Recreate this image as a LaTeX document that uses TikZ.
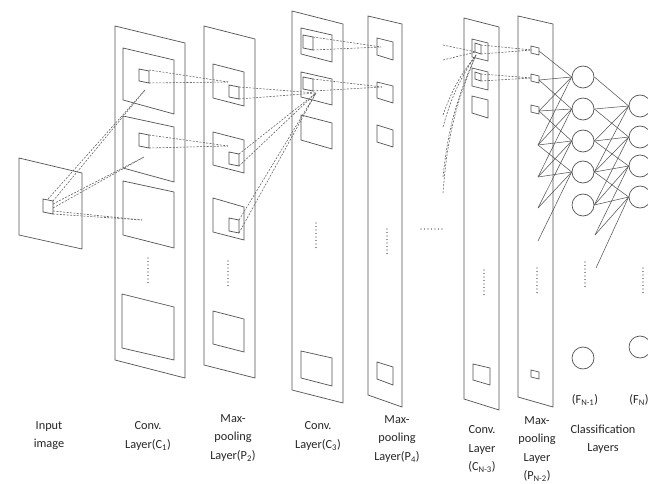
\documentclass[tikz,border=0pt]{standalone}
\usepackage{fontspec}
\setmainfont{Carlito}
\usetikzlibrary{positioning}
\newcommand{\slab}[6]{\draw[plane] (#1,#3) -- (#2,#4) -- (#2,#6) -- (#1,#5) -- cycle;}

\begin{document}
\begin{tikzpicture}[x=0.03cm, y=-0.03cm,
    plane/.style={draw=black!68, line width=0.6pt},
    rf/.style={draw=black!62, line width=0.5pt, dash pattern=on 1.7pt off 1.2pt},
    fc/.style={draw=black!68, line width=0.45pt},
    neuron/.style={circle, draw=black!68, line width=0.6pt, minimum size=0.66cm, inner sep=0pt},
    vdots/.style={draw=black!80, line width=1.1pt, line cap=round, dash pattern=on 0pt off 3pt},
    laytext/.style={align=center, text=black!85, font=\fontsize{10.5}{15.5}\selectfont}
  ]
  \useasboundingbox (0,0) rectangle (648,484);
  \clip (0,0) rectangle (648,484);

  % Layer planes
  \slab{19}{82}{158}{173}{235}{249}     % input
  \slab{115}{185}{26}{43}{360}{378}     % C1
  \slab{204}{255}{26}{39}{365}{378}     % P2
  \slab{292}{343}{11}{24}{390}{403}     % C3
  \slab{368}{402}{16}{24}{395}{407}     % P4
  \slab{464}{499}{18}{27}{399}{410}     % C_{N-3}
  \slab{518}{553}{16}{24}{397}{407}     % P_{N-2}

  % Feature maps
  \slab{43}{53}{199}{201}{212}{214}
  \slab{123}{174}{48}{60}{100}{114}
  \slab{123}{174}{116}{127}{168}{182}
  \slab{123}{174}{181}{192}{235}{248}
  \slab{122}{174}{294}{307}{348}{360}
  \slab{139}{149}{69}{71}{81}{83}
  \slab{139}{149}{133}{135}{146}{148}
  \slab{213}{244}{64}{72}{98}{106}
  \slab{213}{244}{132}{140}{165}{173}
  \slab{213}{244}{198}{207}{232}{240}
  \slab{213}{244}{311}{319}{344}{352}
  \slab{229}{239}{85}{87}{97}{99}
  \slab{229}{239}{152}{154}{164}{166}
  \slab{229}{239}{218}{220}{231}{233}
  \slab{301}{332}{28}{35}{54}{62}
  \slab{301}{332}{72}{79}{97}{105}
  \slab{301}{332}{115}{123}{140}{149}
  \slab{301}{332}{351}{358}{378}{386}
  \slab{303}{313}{35}{37}{48}{50}
  \slab{303}{313}{77}{79}{89}{91}
  \slab{377}{393}{38}{42}{55}{60}
  \slab{377}{393}{82}{86}{98}{103}
  \slab{377}{393}{125}{130}{142}{147}
  \slab{377}{393}{362}{367}{379}{385}
  \slab{472}{488}{39}{43}{57}{61}
  \slab{472}{488}{68}{72}{86}{90}
  \slab{472}{488}{96}{100}{113}{118}
  \slab{473}{490}{364}{368}{380}{385}
  \slab{475}{481}{43}{45}{52}{54}
  \slab{475}{481}{72}{74}{79}{81}
  \slab{531}{539}{46}{48}{53}{55}
  \slab{531}{539}{74}{76}{81}{83}
  \slab{531}{539}{105}{107}{112}{114}
  \slab{531}{539}{370}{372}{377}{379}

  % Continuation dots
  \draw[vdots] (148,258) -- (148,284);
  \draw[vdots] (228,261) -- (228,287);
  \draw[vdots] (316,223) -- (316,250);
  \draw[vdots] (387,229) -- (387,255);
  \draw[vdots] (484,270) -- (484,297);
  \draw[vdots] (537,268) -- (537,293);
  \draw[vdots] (585,262) -- (585,288);
  \draw[vdots] (643,268) -- (643,293);
  \draw[vdots] (421,229) -- (444,229);

  % Receptive fields: input -> C1
  \coordinate (in1) at (48,199);  \coordinate (in2) at (53,201);
  \coordinate (in3) at (53,204);  \coordinate (in4) at (53,208);
  \coordinate (in5) at (53,211);  \coordinate (in6) at (53,214);
  \coordinate (c1a) at (145,90);  \coordinate (c1b) at (144,157);
  \coordinate (c1c) at (142,220);
  \draw[rf] (in1) -- (c1a);  \draw[rf] (in2) -- (c1a);
  \draw[rf] (in3) -- (c1b);  \draw[rf] (in4) -- (c1b);
  \draw[rf] (in5) -- (c1c);  \draw[rf] (in6) -- (c1c);

  % C1 -> P2
  \coordinate (c1u1) at (149,70);  \coordinate (c1u2) at (149,83);
  \coordinate (c1v1) at (149,135); \coordinate (c1v2) at (149,148);
  \coordinate (p2a) at (228,82);   \coordinate (p2b) at (228,146);
  \draw[rf] (c1u1) -- (p2a);  \draw[rf] (c1u2) -- (p2a);
  \draw[rf] (c1v1) -- (p2b);  \draw[rf] (c1v2) -- (p2b);

  % P2 -> C3
  \coordinate (c3a) at (316,93);
  \foreach \ya/\yb in {87/99, 154/166, 220/233} {
    \coordinate (s1) at (239,\ya);  \coordinate (s2) at (239,\yb);
    \draw[rf] (s1) -- (c3a);  \draw[rf] (s2) -- (c3a);
  }

  % C3 -> P4
  \coordinate (c3u1) at (313,37);  \coordinate (c3u2) at (313,50);
  \coordinate (c3v1) at (313,79);  \coordinate (c3v2) at (313,91);
  \coordinate (p4a) at (381,47);   \coordinate (p4b) at (382,87);
  \draw[rf] (c3u1) -- (p4a);  \draw[rf] (c3u2) -- (p4a);
  \draw[rf] (c3v1) -- (p4b);  \draw[rf] (c3v2) -- (p4b);

  % ... -> C_{N-3}
  \coordinate (cna) at (476,52);  \coordinate (cnb) at (476,55);
  \coordinate (t1) at (443,45);   \coordinate (t2) at (443,60);
  \draw[rf] (t1) -- (cna);  \draw[rf] (t2) -- (cna);
  \foreach \yy in {115, 127, 177, 193} {
    \coordinate (t) at (443,\yy);
    \draw[rf] (t) to[bend left=9] (cnb);
  }

  % C_{N-3} -> P_{N-2}
  \coordinate (cnu1) at (481,45);  \coordinate (cnu2) at (481,54);
  \coordinate (cnv1) at (481,74);  \coordinate (cnv2) at (481,81);
  \coordinate (pna) at (532,50);   \coordinate (pnb) at (532,78);
  \draw[rf] (cnu1) -- (pna);  \draw[rf] (cnu2) -- (pna);
  \draw[rf] (cnv1) -- (pnb);  \draw[rf] (cnv2) -- (pnb);

  % Classification layers
  \node[neuron] (f1) at (583,77)  {};
  \node[neuron] (f2) at (583,109) {};
  \node[neuron] (f3) at (583,141) {};
  \node[neuron] (f4) at (583,172) {};
  \node[neuron] (f5) at (583,205) {};
  \node[neuron] (fb) at (583,358) {};
  \node[neuron] (g1) at (640,106) {};
  \node[neuron] (g2) at (640,137) {};
  \node[neuron] (g3) at (640,166) {};
  \node[neuron] (g4) at (640,197) {};
  \node[neuron] (gb) at (640,347) {};

  \coordinate (p1) at (539,51);   \coordinate (p2) at (539,80);
  \coordinate (p3) at (539,111);  \coordinate (p4) at (538,145);
  \coordinate (p5) at (538,177);  \coordinate (p6) at (538,208);
  \coordinate (p7) at (538,241);
  \foreach \j in {1,...,5} \coordinate (fo\j) at (f\j.east);
  \coordinate (fo6) at (595,235);  \coordinate (fo7) at (596,268);

  \foreach \j [evaluate=\j as \kmax using int(\j+3)] in {1,...,4} {
    \foreach \k in {\j,...,\kmax} \draw[fc] (p\k) -- (f\j.west);
    \foreach \k in {\j,...,\kmax} \draw[fc] (fo\k) -- (g\j.west);
  }

  % Labels
  \node[laytext] (tin)  at (49,436)  {Input\\image};
  \node[laytext] (tc1)  at (148,436) {Conv.\\Layer(C\textsubscript{1})};
  \node[laytext] (tp2)  at (233,438) {Max-\\pooling\\Layer(P\textsubscript{2})};
  \node[laytext] (tc3)  at (318,436) {Conv.\\Layer(C\textsubscript{3})};
  \node[laytext] (tp4)  at (397,439) {Max-\\pooling\\Layer(P\textsubscript{4})};
  \node[laytext] (tcn)  at (482,449) {Conv.\\Layer\\(C\textsubscript{N-3})};
  \node[laytext] (tpn)  at (537,449) {Max-\\pooling\\Layer\\(P\textsubscript{N-2})};
  \node[laytext] (tf1)  at (585,400) {(F\textsubscript{N-1})};
  \node[laytext] (tf2)  at (639,400) {(F\textsubscript{N})};
  \node[laytext] (tcl)  at (603,439) {Classification\\Layers};
\end{tikzpicture}
\end{document}
